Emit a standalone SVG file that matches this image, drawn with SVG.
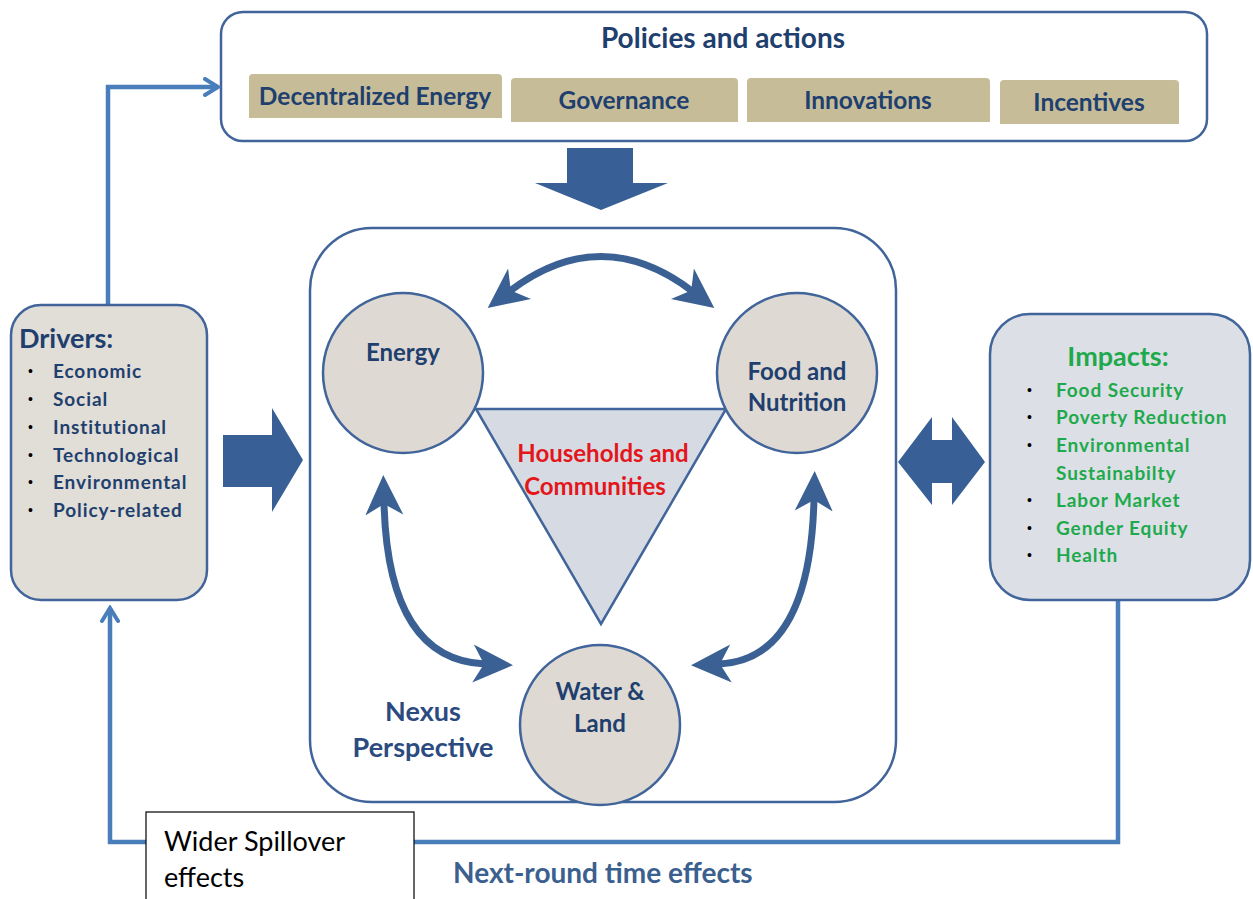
<svg xmlns="http://www.w3.org/2000/svg" width="1253" height="899" viewBox="0 0 1253 899">
<defs>
<style>
.frame{fill:#fff;stroke:#41659a;stroke-width:2.5}
.tab{fill:#c6bd98}
.tabt{font-family:Lato,"Open Sans",sans-serif;font-weight:bold;font-size:24.5px;fill:#1f3f6e;text-anchor:middle}
.node{fill:#ded9d3;stroke:#41659a;stroke-width:2.5}
.nt{font-family:Lato,"Open Sans",sans-serif;font-weight:bold;font-size:24px;fill:#1f3f6e;text-anchor:middle}
.red{fill:#e3161c}
.drv{font-family:Lato,"Open Sans",sans-serif;font-weight:bold;font-size:19px;fill:#1f3f6e;letter-spacing:0.9px}
.imp{font-family:Lato,"Open Sans",sans-serif;font-weight:bold;font-size:19px;fill:#1eaa4c;letter-spacing:0.9px}
.bul{font-family:"Liberation Sans",sans-serif;font-size:14px;fill:#000}
.block{fill:#386096}
.conn{fill:none;stroke:#4a7ebb;stroke-width:4.5}
.curve{fill:none;stroke:#3a6094;stroke-width:7}
</style>
<marker id="stealth" viewBox="0 0 40 40" refX="12" refY="20" markerWidth="40" markerHeight="40" markerUnits="userSpaceOnUse" orient="auto-start-reverse">
<path d="M40,20 L0,1 L11,20 L0,39 Z" fill="#3a6094"/>
</marker>
<marker id="chev" viewBox="0 0 20 20" refX="17" refY="10" markerWidth="20" markerHeight="20" markerUnits="userSpaceOnUse" orient="auto">
<path d="M4,2 L17,10 L4,18" fill="none" stroke="#4a7ebb" stroke-width="4" stroke-linecap="round"/>
</marker>
</defs>
<rect width="1253" height="899" fill="#fff"/>

<g id="policies">
<rect class="frame" x="221" y="12" width="986" height="129" rx="22"/>
<text x="723" y="48" font-family="Lato,'Open Sans',sans-serif" font-weight="bold" font-size="28" fill="#1f3f6e" text-anchor="middle">Policies and actions</text>
<g id="tab-decentralized">
<path class="tab" d="M249,118 V78 Q249,74 253,74 H498 Q502,74 502,78 V118 Z"/>
<text class="tabt" x="375" y="105">Decentralized Energy</text>
</g>
<g id="tab-governance">
<path class="tab" d="M511,122 V82 Q511,78 515,78 H734 Q738,78 738,82 V122 Z"/>
<text class="tabt" x="624" y="109">Governance</text>
</g>
<g id="tab-innovations">
<path class="tab" d="M747,122 V82 Q747,78 751,78 H986 Q990,78 990,82 V122 Z"/>
<text class="tabt" x="868" y="109">Innovations</text>
</g>
<g id="tab-incentives">
<path class="tab" d="M1000,124 V84 Q1000,80 1004,80 H1175 Q1179,80 1179,84 V124 Z"/>
<text class="tabt" x="1089" y="111">Incentives</text>
</g>
</g>

<g id="nexus">
<rect class="frame" x="310" y="228" width="586" height="574" rx="62"/>
<text x="423" y="721" font-family="Lato,'Open Sans',sans-serif" font-weight="bold" font-size="27" fill="#2b4b80" text-anchor="middle">Nexus</text>
<text x="423" y="757" font-family="Lato,'Open Sans',sans-serif" font-weight="bold" font-size="27" fill="#2b4b80" text-anchor="middle">Perspective</text>
</g>

<g id="connectors">
<path class="conn" d="M108,305 V87 H218" marker-end="url(#chev)"/>
<path class="conn" d="M1118,601 V842 H110 V608" marker-end="url(#chev)"/>
<path class="curve" d="M510,291 Q601,222 692,291" marker-start="url(#stealth)" marker-end="url(#stealth)"/>
<path class="curve" d="M384,503 Q388,660 485,664" marker-start="url(#stealth)" marker-end="url(#stealth)"/>
<path class="curve" d="M814,499 Q810,660 719,664" marker-start="url(#stealth)" marker-end="url(#stealth)"/>
<polygon class="block" points="567,148 633,148 633,183 668,183 601,210 535,183 567,183"/>
<polygon class="block" points="223,435 272,435 272,408 303,460 272,512 272,487 223,487"/>
<polygon class="block" points="898,462 932,417 932,440 952,440 952,417 985,462 952,505 952,483 932,483 932,505"/>
</g>

<g id="households">
<polygon points="476,409 726,409 601,624" fill="#d6dbe3" stroke="#41659a" stroke-width="2.5"/>
<text class="nt red" x="603" y="462">Households and</text>
<text class="nt red" x="595" y="495">Communities</text>
</g>

<g id="energy">
<circle class="node" cx="403" cy="373" r="80"/>
<text class="nt" x="403" y="361">Energy</text>
</g>

<g id="food">
<circle class="node" cx="797" cy="373" r="80"/>
<text class="nt" x="797" y="380">Food and</text>
<text class="nt" x="797" y="411">Nutrition</text>
</g>

<g id="water">
<circle class="node" cx="600" cy="725" r="80"/>
<text class="nt" x="600" y="700">Water &amp;</text>
<text class="nt" x="600" y="732">Land</text>
</g>

<g id="drivers">
<rect x="11" y="305" width="196" height="295" rx="30" fill="#e1ddd7" stroke="#41659a" stroke-width="2.5"/>
<text x="19" y="348" font-family="Lato,'Open Sans',sans-serif" font-weight="bold" font-size="27" fill="#1f3f6e">Drivers:</text>
<text class="bul" x="28" y="376">•</text><text class="drv" x="53" y="378">Economic</text>
<text class="bul" x="28" y="404">•</text><text class="drv" x="53" y="406">Social</text>
<text class="bul" x="28" y="432">•</text><text class="drv" x="53" y="434">Institutional</text>
<text class="bul" x="28" y="460">•</text><text class="drv" x="53" y="462">Technological</text>
<text class="bul" x="28" y="487">•</text><text class="drv" x="53" y="489">Environmental</text>
<text class="bul" x="28" y="515">•</text><text class="drv" x="53" y="517">Policy-related</text>
</g>

<g id="impacts">
<rect x="990" y="314" width="260" height="286" rx="40" fill="#dcdfe5" stroke="#41659a" stroke-width="2.5"/>
<text x="1118" y="366" font-family="Lato,'Open Sans',sans-serif" font-weight="bold" font-size="27" fill="#1eaa4c" text-anchor="middle">Impacts:</text>
<text class="bul" x="1027" y="395">•</text><text class="imp" x="1056" y="397">Food Security</text>
<text class="bul" x="1027" y="422">•</text><text class="imp" x="1056" y="424">Poverty Reduction</text>
<text class="bul" x="1027" y="450">•</text><text class="imp" x="1056" y="452">Environmental</text>
<text class="imp" x="1056" y="480">Sustainabilty</text>
<text class="bul" x="1027" y="505">•</text><text class="imp" x="1056" y="507">Labor Market</text>
<text class="bul" x="1027" y="533">•</text><text class="imp" x="1056" y="535">Gender Equity</text>
<text class="bul" x="1027" y="560">•</text><text class="imp" x="1056" y="562">Health</text>
</g>

<g id="spillover">
<rect x="146" y="812" width="268" height="90" fill="#fff" stroke="#000" stroke-width="1.2"/>
<text x="164" y="851" font-family="Lato,'Liberation Sans',sans-serif" font-size="27" fill="#000">Wider Spillover</text>
<text x="164" y="887" font-family="Lato,'Liberation Sans',sans-serif" font-size="27" fill="#000">effects</text>
</g>

<g id="next-round">
<text x="453" y="883" font-family="Lato,'Open Sans',sans-serif" font-weight="bold" font-size="28" fill="#3b5f8f">Next-round time effects</text>
</g>
</svg>
